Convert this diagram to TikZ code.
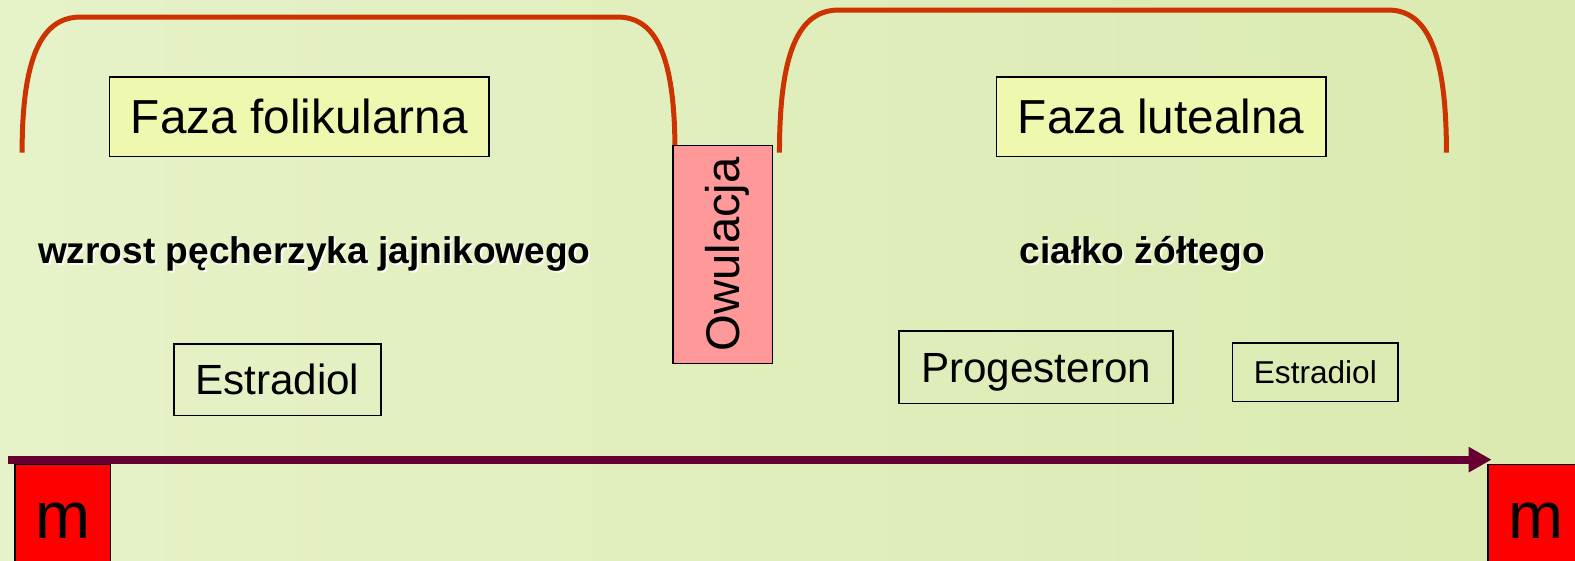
\documentclass[tikz,border=0pt]{standalone}
\usepackage{fontspec}
\setmainfont{Liberation Sans}
\usetikzlibrary{arrows.meta}
\definecolor{bgL}{RGB}{230,242,200}
\definecolor{bgR}{RGB}{218,234,176}
\definecolor{arcc}{RGB}{204,51,0}
\definecolor{fazafill}{RGB}{240,248,176}
\definecolor{owfill}{RGB}{255,153,153}
\definecolor{axisc}{RGB}{102,0,51}
\begin{document}
\begin{tikzpicture}[x=1.00446pt,y=-1.00358pt,
  phasebox/.style={draw=black,line width=1.8pt,fill=fazafill,inner sep=0pt,
    text height=34pt,text depth=0pt,font=\fontsize{47.7}{50}\selectfont},
  hormbox/.style={draw=black,line width=1.6pt,inner sep=0pt,text depth=0pt},
  mbox/.style={draw=black,line width=1.6pt,fill=red,inner sep=0pt,
    minimum width=95.4pt,minimum height=114.4pt,
    text height=34pt,text depth=0pt,font=\fontsize{66}{70}\selectfont},
  brace/.style={draw=arcc,line width=5pt},
  boldlbl/.style={font=\bfseries\fontsize{37.1}{40}\selectfont,inner sep=0pt,anchor=base},
  shadowlbl/.style={boldlbl,text=white,opacity=0.8}
]
\useasboundingbox (0,0) rectangle (1568,558);
\shade[left color=bgL,right color=bgR] (0,0) rectangle (1568,558);

% braces
\draw[brace] (22,152) .. controls (22,60) and (40,17) .. (80,17) -- (615,17)
  .. controls (655,17) and (672,60) .. (672,152);
\draw[brace] (776,152) .. controls (776,52) and (795,10) .. (835,10) -- (1382,10)
  .. controls (1421,10) and (1440,52) .. (1440,152);

% phase boxes
\node[phasebox,minimum width=379.7pt,minimum height=79.3pt] (fol) at (298,116.5) {Faza folikularna};
\node[phasebox,minimum width=329.5pt,minimum height=79.3pt] (lut) at (1156,116.5) {Faza lutealna};

% ovulation
\node[draw=black,line width=1.8pt,fill=owfill,inner sep=0pt,rotate=90,
  minimum width=218pt,minimum height=99.4pt,text height=33.8pt,text depth=0pt,
  font=\fontsize{47.2}{50}\selectfont] (owu) at (719.5,253.5) {Owulacja};

% bold labels
\node[shadowlbl] at (315,265) {wzrost pęcherzyka jajnikowego};
\node[boldlbl] (wzr) at (313,263) {wzrost pęcherzyka jajnikowego};
\node[shadowlbl] at (1139,265) {ciałko żółtego};
\node[boldlbl] (cia) at (1137,263) {ciałko żółtego};

% hormone boxes
\node[hormbox,minimum width=207pt,minimum height=71.3pt,text height=30pt,font=\fontsize{42.2}{45}\selectfont] (est1) at (276,378.5) {Estradiol};
\node[hormbox,minimum width=274pt,minimum height=72.3pt,text height=30pt,font=\fontsize{42.2}{45}\selectfont] (prog) at (1031.5,366) {Progesteron};
\node[hormbox,minimum width=165.7pt,minimum height=58.2pt,text height=22.6pt,font=\fontsize{31.6}{34}\selectfont] (est2) at (1309.5,371) {Estradiol};

% time axis
\coordinate (axs) at (8,458);
\coordinate (axe) at (1485,458);
\draw[axisc,line width=8pt,-{Triangle[length=23pt,width=24pt]}] (axs) -- (axe);

% menstruation boxes
\node[mbox] (m1) at (62.5,520) {m};
\node[mbox] (m2) at (1529,520) {m};
\end{tikzpicture}
\end{document}
